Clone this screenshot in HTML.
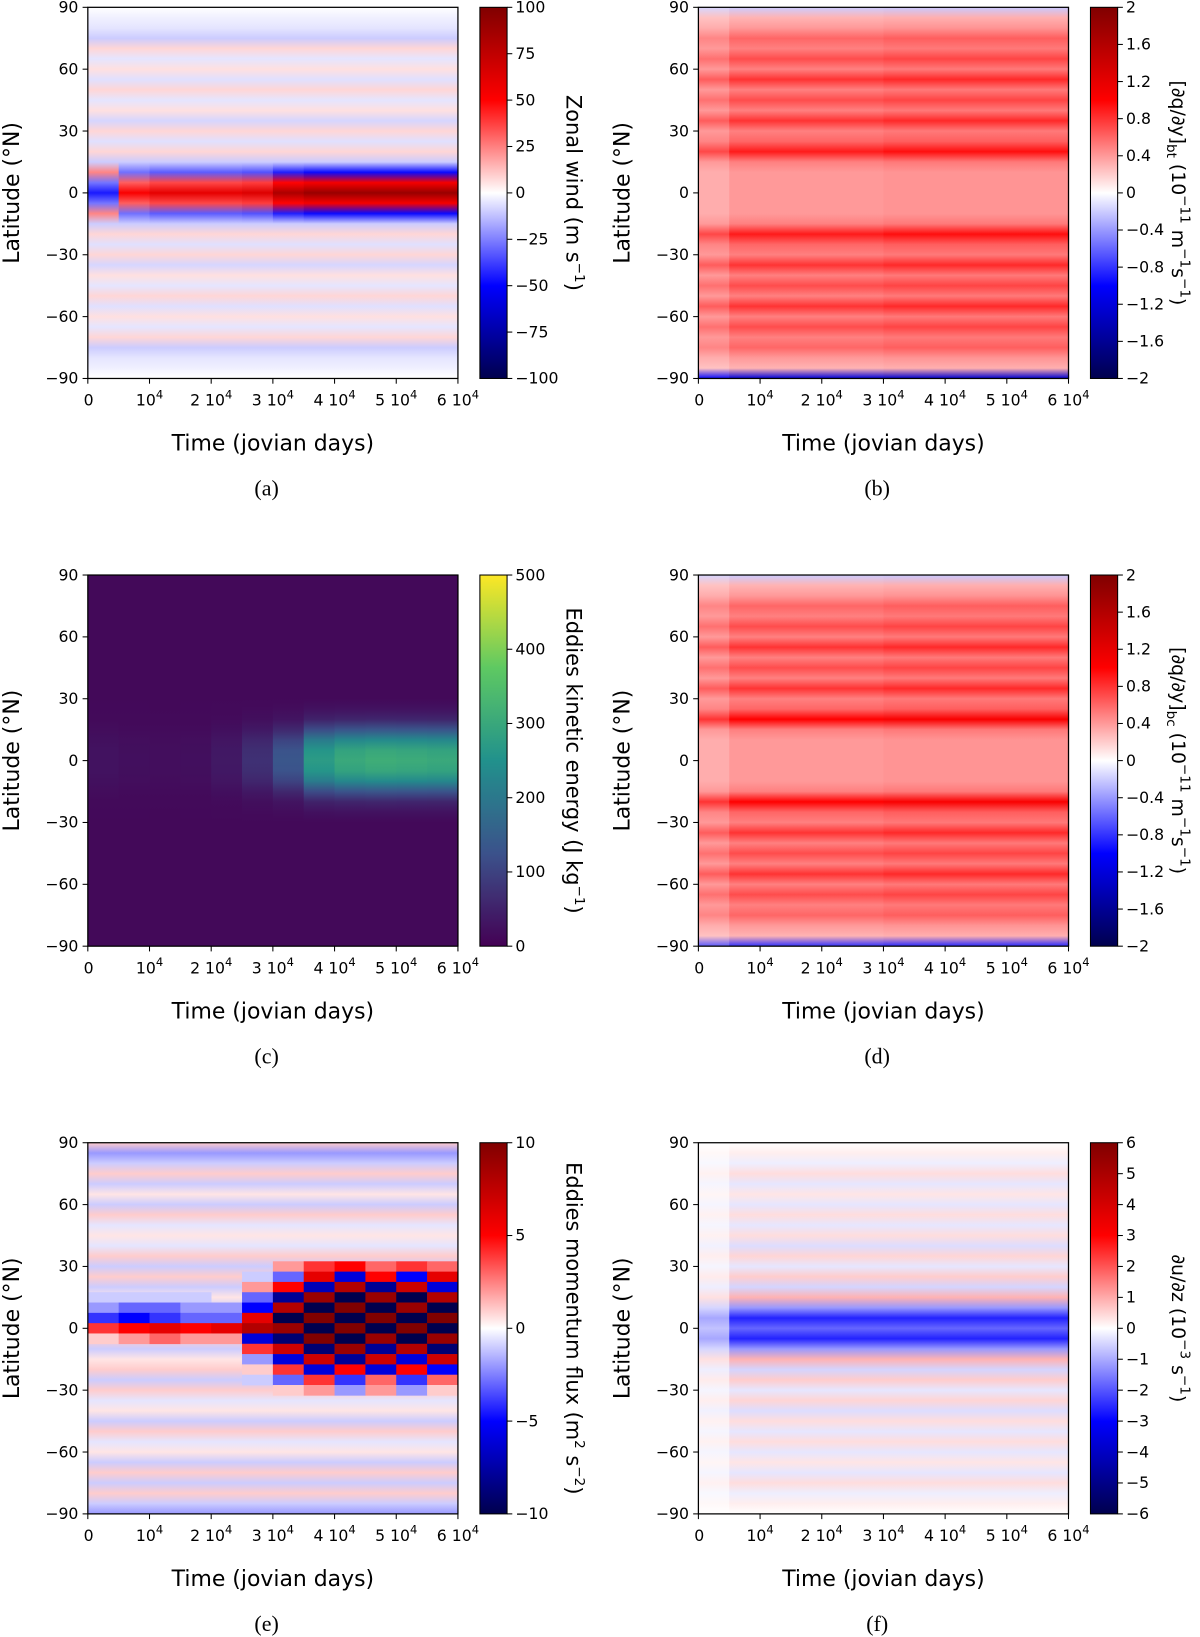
<!DOCTYPE html>
<html><head><meta charset="utf-8"><style>
html,body{margin:0;padding:0;background:#fff}
svg{display:block}
text{font-family:"DejaVu Sans","Liberation Sans",sans-serif;fill:#000}
.cap{font-family:"Liberation Serif",serif;font-size:21px}
</style></head><body>
<svg width="1200" height="1637" viewBox="0 0 1200 1637" xmlns="http://www.w3.org/2000/svg">
<defs id="defs"></defs>
<g id="fig" transform="scale(1.0455)"></g>
</svg>
<script>
// ---- data (latitude profiles 90 -> -90 step 5, time factors per 5000 days) ----
const timeTicks = [0,1,2,3,4,5,6];
const latTicks = [90,60,30,0,-30,-60,-90];
const profA = [0,-3,-5,-10,8,-5,6,-6,8,-5,6,-8,8,-6,8,-10,-40,45,75,45,-40,-10,8,-6,8,-8,6,-5,8,-6,6,-5,8,-10,-5,-3,0];
const timeA = [-0.6,0.7,0.8,0.8,0.8,0.85,1.1,1.2,1.2,1.2,1.2,1.2];
const profB = [-0.2,0.3,0.4,0.6,0.5,0.7,0.5,0.8,0.5,0.7,0.5,0.8,0.5,0.6,0.9,0.5,0.4,0.4,0.4,0.4,0.4,0.5,0.9,0.6,0.5,0.8,0.5,0.7,0.5,0.8,0.5,0.7,0.5,0.6,0.4,0.3,-1.2];
const timeB = [0.8,1,1,1,1,1,1.05,1.05,1.05,1.05,1.05,1.05];
const profD = [-0.2,0.3,0.4,0.6,0.5,0.7,0.5,0.8,0.5,0.7,0.5,0.8,0.5,0.6,1.0,0.5,0.4,0.4,0.4,0.4,0.4,0.5,1.0,0.6,0.5,0.8,0.5,0.7,0.5,0.8,0.5,0.7,0.5,0.6,0.4,0.3,-0.8];
const timeD = [0.8,1,1,1,1,1,1.05,1.05,1.05,1.05,1.05,1.05];
const profC = [0,0,0,0,0,0,0,0,0,0,0,0,0,0.05,0.15,0.4,0.75,0.95,1,0.95,0.75,0.4,0.15,0.05,0,0,0,0,0,0,0,0,0,0,0,0,0];
const timeC = [15,10,8,10,25,60,120,260,290,300,295,290];
const profF = [0,0.2,-0.2,0.4,-0.3,0.3,-0.3,0.4,-0.3,0.4,-0.4,0.5,-0.3,0.6,-0.5,0.9,-1.2,-2.6,-1.8,-2.6,-1.2,0.9,-0.5,0.6,-0.3,0.5,-0.4,0.4,-0.3,0.4,-0.3,0.3,-0.3,0.4,-0.2,0.2,0];
const timeF = [0.4,1,1,1,1,1,1,1,1,1,1,1];
const profE = [1,-2,-1,1,-1,0.5,-1,1,-0.5,0.5,-0.5,1,-1,1,-1,0.5,-1,-3,4,1,-1,0.5,1,-1,1,-0.5,0.5,-1,1,-0.5,0.5,-1,1,-1,1,-1,-2];
const timeE = [1,1,1,1,1,1,1,1,1,1,1,1];
// eddy flux noisy core: rows lat 30..-30 step 5, cols 12 (5000 day bins)
const coreE = [
[0,0,0,0,0,0,2,4,5,3,4,3],
[0,0,0,0,0,-1,-3,6,-6,5,-5,6],
[0,0,0,0,0,2,5,-7,8,-8,7,-6],
[-1,-1,-1,-1,0,-3,-8,9,-10,9,-10,8],
[-2,-3,-3,-2,-2,-5,8,-10,10,-10,9,-10],
[-4,-5,-4,-3,-3,6,-10,10,-10,10,-10,10],
[4,5,6,5,6,8,9,-10,10,-10,10,-10],
[1,2,3,2,2,-6,-9,10,-10,9,-10,9],
[0,0,0,0,0,4,7,-9,9,-8,8,-9],
[0,0,0,0,0,-2,-6,7,-8,7,-6,7],
[0,0,0,0,0,1,4,-6,5,-6,5,-5],
[0,0,0,0,0,-1,-3,4,-4,3,-4,3],
[0,0,0,0,0,0,1,2,-2,2,-2,1]];
const cbA = [100,75,50,25,0,-25,-50,-75,-100];
const cbB = [2,1.6,1.2,0.8,0.4,0,-0.4,-0.8,-1.2,-1.6,-2];
const cbC = [500,400,300,200,100,0];
const cbF = [6,5,4,3,2,1,0,-1,-2,-3,-4,-5,-6];
const cbE = [10,5,0,-5,-10];

// ---- colormaps ----
const seismic=[[0,0,0,77],[0.25,0,0,255],[0.5,255,255,255],[0.75,255,0,0],[1,128,0,0]];
const viridis=[[0,68,1,84],[0.25,59,82,139],[0.5,33,145,140],[0.75,94,201,98],[1,253,231,37]];
function cmap(m,f){f=Math.max(0,Math.min(1,f));for(let i=1;i<m.length;i++){if(f<=m[i][0]){const a=m[i-1],b=m[i],t=(f-a[0])/(b[0]-a[0]);return `rgb(${Math.round(a[1]+(b[1]-a[1])*t)},${Math.round(a[2]+(b[2]-a[2])*t)},${Math.round(a[3]+(b[3]-a[3])*t)})`;}}return 'rgb(128,0,0)';}

const NS="http://www.w3.org/2000/svg";
const svg=document.getElementById('fig'), defs=document.getElementById('defs');
function el(tag,attrs,parent){const e=document.createElementNS(NS,tag);for(const k in attrs)e.setAttribute(k,attrs[k]);(parent||svg).appendChild(e);return e;}
let gid=0;
const W=354,H=355;

function panel(o){
  const g=el('g',{});
  
  
  const x0=o.x,y0=o.y;
  const xs=t=>x0+t/6*W;
  const ys=l=>y0+(90-l)/180*H;
  const norm=v=>(v-o.vmin)/(o.vmax-o.vmin);
  const nc=o.time.length;
  for(let c=0;c<nc;c++){
    const id='g'+(gid++);
    const lg=el('linearGradient',{id:id,x1:0,y1:0,x2:0,y2:1},defs);
    o.prof.forEach((p,i)=>{
      const v=o.comb(p,o.time[c]);
      el('stop',{offset:(i/(o.prof.length-1)).toFixed(4),'stop-color':cmap(o.cm,norm(v))},lg);
    });
    const r=el('rect',{x:xs(c*6/nc),y:y0,width:W/nc+0.6,height:H,fill:`url(#${id})`},g);
    
    
  }
  if(o.core){
    o.core.forEach((row,ri)=>{
      const lat=30-ri*5;
      row.forEach((v,ci)=>{
        if(v===0)return;
        const r=el('rect',{x:xs(ci*6/nc),y:ys(lat+2.5),width:W/nc+0.3,height:H/36+0.3,fill:cmap(o.cm,norm(v))},g);
        
        
      });
    });
  }
  el('rect',{x:x0,y:y0,width:W,height:H,fill:'none',stroke:'#000','stroke-width':1.2},g);
  latTicks.forEach(l=>{
    el('line',{x1:x0-5,x2:x0,y1:ys(l),y2:ys(l),stroke:'#000'},g);
    const t=el('text',{x:x0-9,y:ys(l)+5,'text-anchor':'end','font-size':15},g);
    t.textContent=(l<0?'\u2212'+(-l):l);
  });
  timeTicks.forEach(k=>{
    el('line',{x1:xs(k),x2:xs(k),y1:y0+H,y2:y0+H+5,stroke:'#000'},g);
    const t=el('text',{x:xs(k),y:y0+H+26,'text-anchor':k===0?'start':'middle','font-size':15},g);
    if(k===0){t.setAttribute('x',xs(0)-4);t.textContent='0';}
    else{ if(k>1){const a=el('tspan',{},t);a.textContent=k+' ';}
      const b=el('tspan',{},t);b.textContent='10';
      const s=el('tspan',{dy:-7,'font-size':11},t);s.textContent='4';}
  });
  const xl=el('text',{x:x0+W/2,y:y0+H+69,'text-anchor':'middle','font-size':21},g);
  xl.textContent='Time (jovian days)';
  
  
  const yl=el('text',{transform:`translate(${x0-66},${y0+H/2}) rotate(-90)`,'text-anchor':'middle','font-size':21},g);
  yl.textContent='Latitude (°N)';
  
  
  const cap=el('text',{x:x0+W/2-6,y:y0+H+112,'text-anchor':'middle',class:'cap'},g);
  cap.textContent=o.cap;
  
  
  const cx=x0+375,cw=26;
  const id='cb'+(gid++);
  const lg=el('linearGradient',{id:id,x1:0,y1:1,x2:0,y2:0},defs);
  for(let i=0;i<=40;i++)el('stop',{offset:i/40,'stop-color':cmap(o.cm,i/40)},lg);
  const cb=el('rect',{x:cx,y:y0,width:cw,height:H,fill:`url(#${id})`,stroke:'#000','stroke-width':1},g);
  
  
  o.cbt.forEach(v=>{
    const y=y0+(1-norm(v))*H;
    el('line',{x1:cx+cw,x2:cx+cw+5,y1:y,y2:y,stroke:'#000'},g);
    const t=el('text',{x:cx+cw+8,y:y+5,'font-size':15},g);
    t.textContent=(v<0?'\u2212'+(-v):v);
  });
  const lx=cx+(o.cbw||83);
  const lt=el('text',{transform:`translate(${lx},${y0+H/2}) rotate(90)`,'text-anchor':'middle','font-size':o.cbfs||20},g);
  
  
  o.label(lt);
}
function sp(t,txt,attrs){const s=el('tspan',attrs||{},t);s.textContent=txt;return s;}
const mul=(p,t)=>p*t;

panel({name:'panel-a-zonal-wind',x:84,y:7,prof:profA,time:timeA,comb:(p,t)=>Math.abs(p)>30?p*Math.abs(t)*(t<0?-1:1):p,vmin:-100,vmax:100,cm:seismic,cbt:cbA,cap:'(a)',
 label:t=>{sp(t,'Zonal wind (m s');sp(t,'\u22121',{dy:-8,'font-size':13});sp(t,')',{dy:8});}});
panel({name:'panel-b-pv-gradient-bt',x:668,y:7,prof:profB,time:timeB,comb:mul,vmin:-2,vmax:2,cm:seismic,cbt:cbB,cap:'(b)',cbw:78,cbfs:18,
 label:t=>{sp(t,'[∂q/∂y]');sp(t,'bt',{dy:5,'font-size':13});sp(t,' (10',{dy:-5});sp(t,'\u221211',{dy:-8,'font-size':13});sp(t,' m',{dy:8});sp(t,'\u22121',{dy:-8,'font-size':13});sp(t,'s',{dy:8});sp(t,'\u22121',{dy:-8,'font-size':13});sp(t,')',{dy:8});}});
panel({name:'panel-c-eddy-kinetic-energy',x:84,y:550,prof:profC,time:timeC,comb:(p,t)=>12+p*t,vmin:0,vmax:500,cm:viridis,cbt:cbC,cap:'(c)',
 label:t=>{sp(t,'Eddies kinetic energy (J kg');sp(t,'\u22121',{dy:-8,'font-size':13});sp(t,')',{dy:8});}});
panel({name:'panel-d-pv-gradient-bc',x:668,y:550,prof:profD,time:timeD,comb:mul,vmin:-2,vmax:2,cm:seismic,cbt:cbB,cap:'(d)',cbw:78,cbfs:18,
 label:t=>{sp(t,'[∂q/∂y]');sp(t,'bc',{dy:5,'font-size':13});sp(t,' (10',{dy:-5});sp(t,'\u221211',{dy:-8,'font-size':13});sp(t,' m',{dy:8});sp(t,'\u22121',{dy:-8,'font-size':13});sp(t,'s',{dy:8});sp(t,'\u22121',{dy:-8,'font-size':13});sp(t,')',{dy:8});}});
panel({name:'panel-e-eddy-momentum-flux',x:84,y:1093,prof:profE,time:timeE,comb:mul,vmin:-10,vmax:10,cm:seismic,cbt:cbE,cap:'(e)',core:coreE,
 label:t=>{sp(t,'Eddies momentum flux (m');sp(t,'2',{dy:-8,'font-size':13});sp(t,' s',{dy:8});sp(t,'\u22122',{dy:-8,'font-size':13});sp(t,')',{dy:8});}});
panel({name:'panel-f-vertical-shear',x:668,y:1093,prof:profF,time:timeF,comb:mul,vmin:-6,vmax:6,cm:seismic,cbt:cbF,cap:'(f)',cbw:78,cbfs:18,
 label:t=>{sp(t,'∂u/∂z (10');sp(t,'\u22123',{dy:-8,'font-size':13});sp(t,' s',{dy:8});sp(t,'\u22121',{dy:-8,'font-size':13});sp(t,')',{dy:8});}});
</script>
</body></html>
